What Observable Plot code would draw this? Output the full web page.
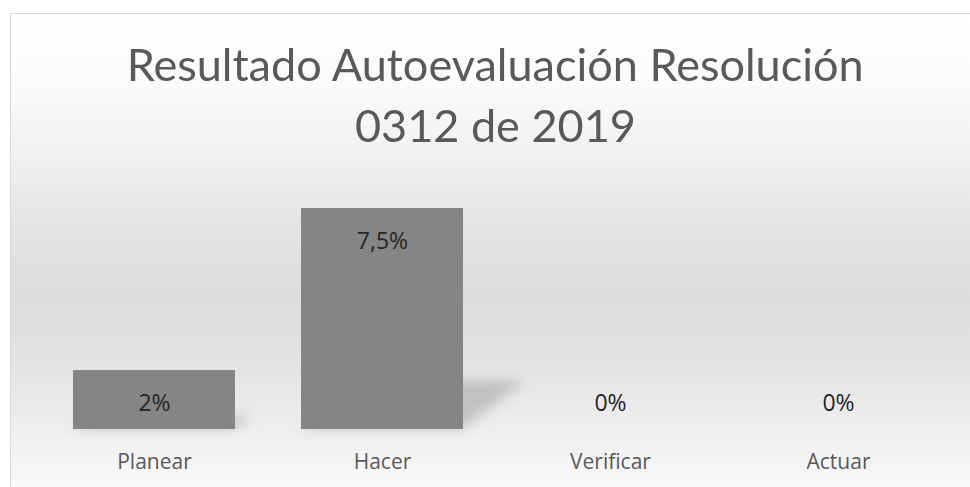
<!DOCTYPE html>
<html>
<head>
<meta charset="utf-8">
<script src="https://cdn.jsdelivr.net/npm/d3@7"></script>
<script src="https://cdn.jsdelivr.net/npm/@observablehq/plot@0.6"></script>
<style>
  html, body { margin: 0; padding: 0; background: #ffffff; width: 970px; height: 487px; overflow: hidden; }
  #frame {
    position: absolute; left: 10px; top: 13px; width: 980px; height: 490px;
    border-top: 1px solid #d9d9d9; border-left: 1px solid #d9d9d9;
    background: linear-gradient(to bottom, #ffffff 0%, #fbfbfb 14%, #f0f0f0 30%, #e3e3e3 44%, #dddddd 58%, #e2e2e2 70%, #ececec 82%, #f6f6f6 93%, #fbfbfb 100%);
  }
  .title {
    position: absolute; left: 0; width: 990px; text-align: center;
    font-family: Lato, "Open Sans", sans-serif; font-size: 45px; line-height: 61px;
    color: #595959; white-space: nowrap;
  }
  .title span { display: inline-block; transform-origin: center; }
  #chart { position: absolute; left: 0; top: 190px; }
</style>
</head>
<body>
<div id="frame"></div>
<div class="title" id="t1" style="top:34px"><span>Resultado Autoevaluación Resolución</span></div>
<div class="title" id="t2" style="top:95px"><span>0312 de 2019</span></div>
<div id="chart"></div>
<script>
const categories = ["Planear", "Hacer", "Verificar", "Actuar"];
const values = [2, 7.5, 0, 0];
const valueLabels = ["2%", "7,5%", "0%", "0%"];

const data = categories.map((c, i) => ({category: c, value: values[i], label: valueLabels[i]}));

// fit title width to look like the narrow original face
const s1 = document.querySelector("#t1 span");
const s2 = document.querySelector("#t2 span");
const k = 737 / s1.getBoundingClientRect().width;
s1.style.transform = `scaleX(${k})`;
s2.style.transform = `scaleX(${k})`;

const chart = Plot.plot({
  width: 970,
  height: 297,
  marginLeft: 40,
  marginRight: 18,
  marginTop: 18,
  marginBottom: 58,
  style: {background: "transparent", fontFamily: "'Open Sans', sans-serif"},
  x: {domain: categories, paddingInner: 0.29, paddingOuter: 0.145, label: null},
  y: {domain: [0, 7.5], axis: null},
  marks: [
    Plot.barY(data, {x: "category", y: "value", fill: "#707070", fillOpacity: 0.32}),
    Plot.barY(data, {x: "category", y: "value", fill: "#858585"}),
    Plot.text(data.filter(d => d.value > 0), {x: "category", y: "value", text: "label", dy: 33, fontSize: 23, fill: "#262626"}),
    Plot.text(data.filter(d => d.value === 0), {x: "category", y: "value", text: "label", dy: -26, fontSize: 23, fill: "#262626"}),
    Plot.axisX({tickSize: 0, tickPadding: 25, fontSize: 21, color: "#595959", label: null})
  ]
});
document.getElementById("chart").appendChild(chart);

// perspective floor shadow: the first bar layer is skewed and blurred
const svg = d3.select(chart);
const defs = svg.insert("defs", ":first-child");
defs.append("filter").attr("id", "shadowblur").attr("x", "-50%").attr("y", "-50%").attr("width", "200%").attr("height", "200%")
  .append("feGaussianBlur").attr("stdDeviation", 6);
const base = 297 - 58;
const shadowG = chart.querySelectorAll('g[aria-label="bar"]')[0];
const sh = d3.select(shadowG);
sh.attr("filter", "url(#shadowblur)");
sh.selectAll("rect").attr("transform", `translate(0,${base}) skewX(-52) scale(1,0.22) translate(0,${-base})`);
</script>
</body>
</html>
